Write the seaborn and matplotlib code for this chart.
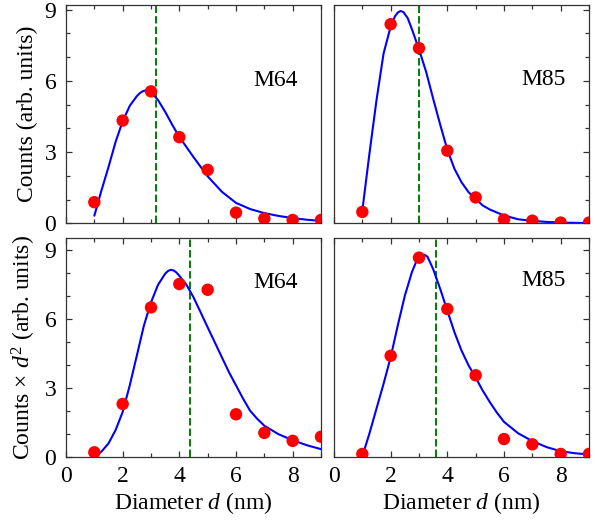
import numpy as np
import pandas as pd
import matplotlib
matplotlib.use("Agg")
import matplotlib.pyplot as plt
import seaborn as sns

# ---------------- data ----------------
diam = [1, 2, 3, 4, 5, 6, 7, 8, 9]

m64_counts = [0.89, 4.33, 5.56, 3.63, 2.25, 0.45, 0.20, 0.14, 0.14]
m85_counts = [0.48, 8.39, 7.38, 3.06, 1.09, 0.16, 0.11, 0.03, 0.03]
m64_counts_d2 = [0.19, 2.30, 6.51, 7.53, 7.28, 1.85, 1.04, 0.69, 0.87]
m85_counts_d2 = [0.12, 4.40, 8.68, 6.44, 3.55, 0.77, 0.54, 0.12, 0.12]

m64_fit_x = [1, 1.25, 1.5, 1.75, 2, 2.25, 2.5, 2.6, 2.7, 2.8, 2.9, 3, 3.25, 3.5,
             3.75, 4, 4.5, 5, 5.5, 6, 6.5, 7, 7.5, 8, 8.5, 9]
m64_fit_y = [0.32, 1.38, 2.37, 3.43, 4.30, 4.95, 5.36, 5.48, 5.56, 5.60, 5.59, 5.53,
             5.19, 4.70, 4.15, 3.64, 2.79, 1.98, 1.33, 0.86, 0.60, 0.43, 0.31, 0.22,
             0.15, 0.10]

m85_fit_x = [1, 1.25, 1.5, 1.75, 2, 2.15, 2.25, 2.35, 2.45, 2.6, 2.75, 3, 3.25, 3.5,
             3.75, 4, 4.25, 4.5, 4.75, 5, 5.25, 5.5, 6, 6.5, 7, 7.5, 8, 9]
m85_fit_y = [0.54, 2.93, 5.19, 7.16, 8.29, 8.72, 8.88, 8.95, 8.90, 8.65, 8.18, 7.33,
             6.39, 5.25, 4.15, 3.10, 2.30, 1.73, 1.31, 1.03, 0.75, 0.58, 0.33, 0.17,
             0.10, 0.06, 0.03, 0.01]

m64_fit2_x = [1, 1.25, 1.5, 1.75, 2, 2.25, 2.5, 2.75, 3, 3.25, 3.5, 3.6, 3.7, 3.8,
              3.9, 4, 4.25, 4.5, 4.75, 5, 5.25, 5.5, 5.75, 6, 6.25, 6.5, 6.75, 7,
              7.5, 8, 8.5, 9]
m64_fit2_y = [0.02, 0.22, 0.58, 1.16, 1.95, 3.11, 4.41, 5.72, 6.73, 7.50, 7.98, 8.10,
              8.15, 8.12, 8.03, 7.89, 7.50, 6.95, 6.30, 5.64, 4.99, 4.34, 3.69, 3.11,
              2.53, 2.00, 1.65, 1.35, 0.98, 0.72, 0.50, 0.33]

m85_fit2_x = [1, 1.25, 1.5, 1.75, 2, 2.25, 2.5, 2.75, 2.9, 3, 3.1, 3.2, 3.3, 3.5,
              3.75, 4, 4.25, 4.5, 4.75, 5, 5.25, 5.5, 5.75, 6, 6.5, 7, 7.5, 8, 8.5, 9]
m85_fit2_y = [0.02, 1.01, 2.10, 3.18, 4.34, 5.72, 7.02, 8.05, 8.50, 8.68, 8.78, 8.80,
              8.72, 8.18, 7.31, 6.37, 5.43, 4.63, 3.98, 3.45, 2.88, 2.38, 1.92, 1.52,
              1.02, 0.68, 0.42, 0.24, 0.15, 0.10]

mean_diam = [3.18, 3.0, 4.38, 3.59]
sample_names = ["M64", "M85", "M64", "M85"]

x_ticks = [0, 2, 4, 6, 8]
y_ticks = [0, 3, 6, 9]

# ---------------- style ----------------
sns.set_theme(style="ticks")
plt.rcParams["font.family"] = ["Liberation Serif", "DejaVu Serif"]
plt.rcParams["mathtext.fontset"] = "custom"
plt.rcParams["mathtext.rm"] = "Liberation Serif"
plt.rcParams["mathtext.it"] = "Liberation Serif:italic"
plt.rcParams["axes.edgecolor"] = "#333333"
plt.rcParams["axes.linewidth"] = 0.9
plt.rcParams["text.color"] = "black"
plt.rcParams["axes.labelcolor"] = "black"

W, H = 599, 524
fig = plt.figure(figsize=(W / 100, H / 100), dpi=100)

def frac(l, t, r, b):
    return [l / W, 1 - b / H, (r - l) / W, (b - t) / H]

axes = [
    fig.add_axes(frac(66, 5, 321, 223.3)),
    fig.add_axes(frac(334, 5, 589, 223.3)),
    fig.add_axes(frac(66, 237.7, 321, 456.7)),
    fig.add_axes(frac(334, 237.7, 589, 456.7)),
]

pts = [m64_counts, m85_counts, m64_counts_d2, m85_counts_d2]
fits = [(m64_fit_x, m64_fit_y), (m85_fit_x, m85_fit_y),
        (m64_fit2_x, m64_fit2_y), (m85_fit2_x, m85_fit2_y)]
ytops = [9.2, 9.2, 9.55, 9.55]
label_y = [6.0, 6.05, 7.6, 7.68]

FS = 17

for i, ax in enumerate(axes):
    fx, fy = fits[i]
    df_pts = pd.DataFrame({"d": diam, "c": pts[i]})
    df_fit = pd.DataFrame({"d": fx, "c": fy})
    sns.lineplot(data=df_fit, x="d", y="c", ax=ax, color="#0000ff", lw=1.5,
                 sort=False, zorder=3)
    sns.scatterplot(data=df_pts, x="d", y="c", ax=ax, color="#ff0000", s=80,
                    edgecolor="none", zorder=4, clip_on=True)
    ax.axvline(mean_diam[i], color="#008000", lw=1.4, dashes=(3.8, 1.6), zorder=2)
    ax.set_xlim(0, 9)
    ax.set_ylim(0, ytops[i])
    ax.set_xticks(x_ticks)
    ax.set_xticks([1, 3, 5, 7, 9], minor=True)
    ax.set_yticks(y_ticks)
    ax.set_yticks([1, 2, 4, 5, 7, 8], minor=True)
    left = (i % 2 == 0)
    bottom = (i >= 2)
    ax.tick_params(axis="both", which="both", direction="in", colors="#333333",
                   labelcolor="black", labelsize=FS, top=True, bottom=True,
                   left=left, right=not left, labelleft=left, labelright=False,
                   labelbottom=bottom, width=0.9)
    ax.tick_params(axis="both", which="major", length=4.5, pad=7)
    ax.tick_params(axis="both", which="minor", length=3)
    ax.text(6.6, label_y[i], sample_names[i], fontsize=FS, ha="left", va="center",
            color="black")
    ax.set_xlabel("Diameter $d$ (nm)" if bottom else "", fontsize=FS, labelpad=2)
    ax.set_ylabel("")
    for s in ax.spines.values():
        s.set_visible(True)

axes[0].set_ylabel("Counts (arb. units)", fontsize=FS, labelpad=5)
axes[2].set_ylabel("Counts × $d^2$ (arb. units)", fontsize=FS, labelpad=5)

fig.savefig("out.png", dpi=100)
